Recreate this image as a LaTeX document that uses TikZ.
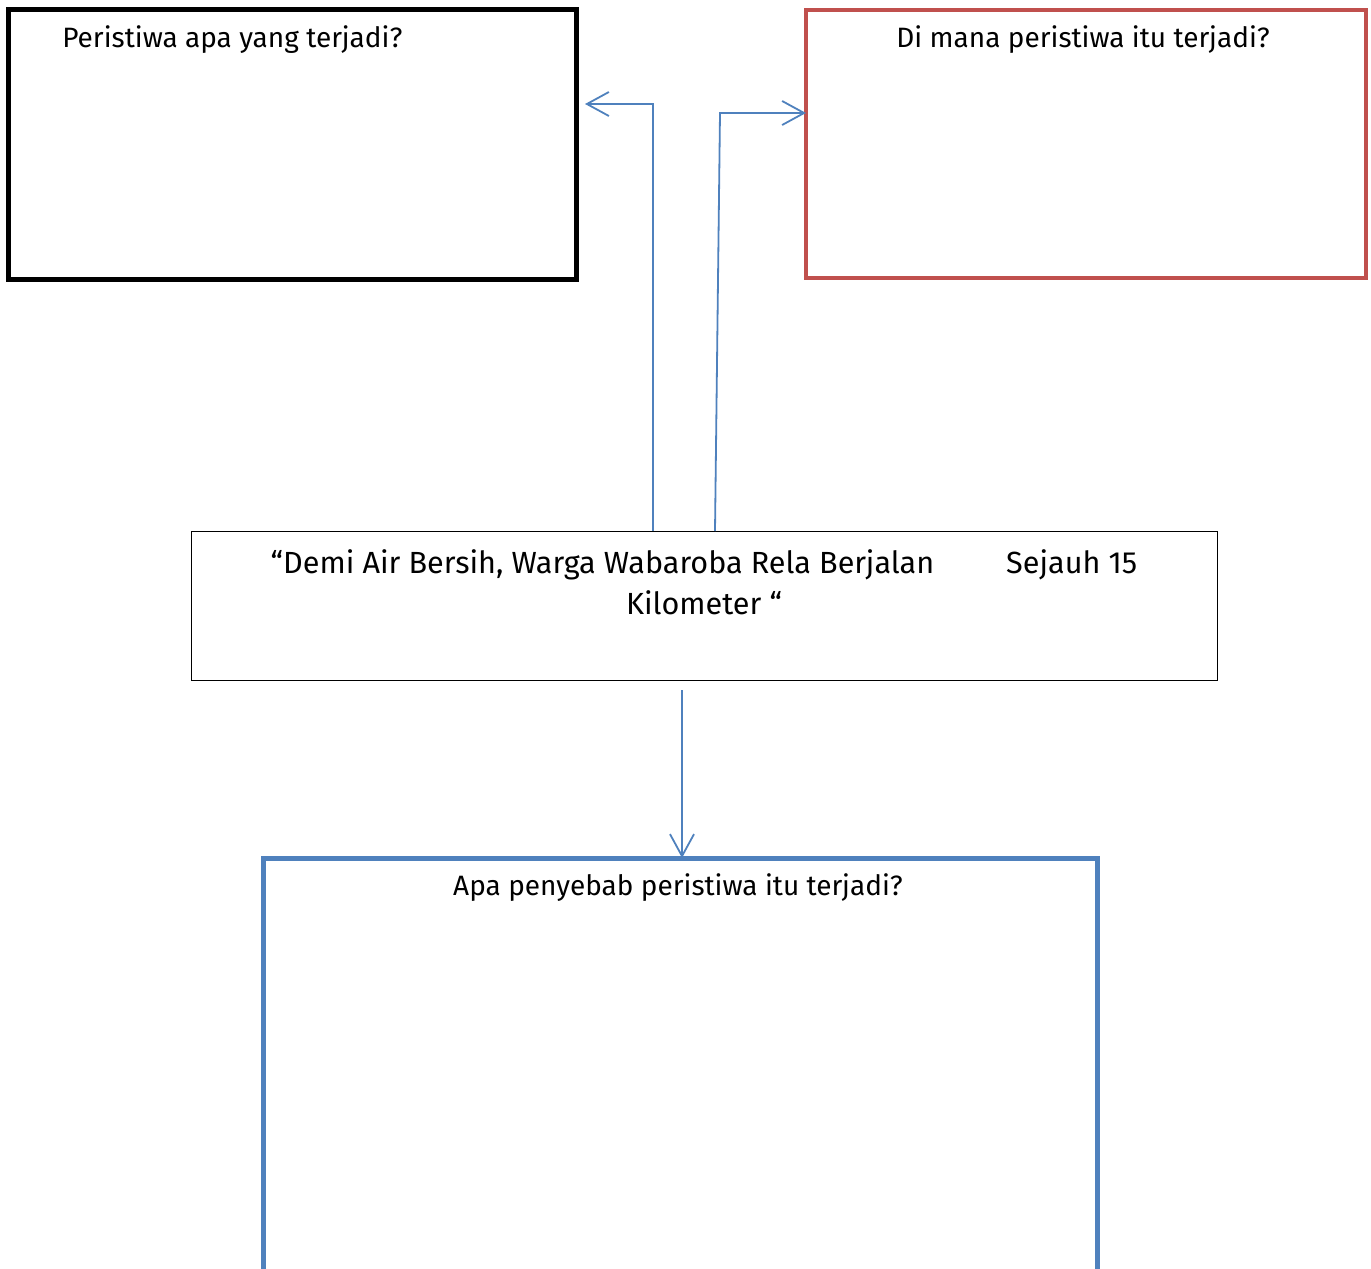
\documentclass[tikz,border=0pt]{standalone}
\usepackage{fontspec}
\setmainfont{Fira Sans}
\usetikzlibrary{arrows.meta,positioning}

\definecolor{boxred}{RGB}{192,80,77}
\definecolor{boxblue}{RGB}{79,129,189}

\begin{document}
\begin{tikzpicture}[x=0.5pt,y=-0.5pt,>={Straight Barb[length=11pt,width=12pt]},semithick]
  \tikzstyle{every node}=[font=\fontsize{14}{17}\selectfont]
  \tikzstyle{box}=[draw,rectangle,inner sep=0pt,outer sep=0pt,anchor=north west]
  \tikzstyle{link}=[->,draw=boxblue,line width=0.9pt]

  \clip (0,0) rectangle (1371,1269);

  \node[box,line width=2.5pt,minimum width=284pt,minimum height=135pt] (what) at (8,9) {};
  \node[box,draw=boxred,line width=2pt,minimum width=280pt,minimum height=134pt] (where) at (806,10) {};
  \node[box,line width=0.5pt,minimum width=513pt,minimum height=74.5pt] (head) at (191,531) {};
  \node[box,draw=boxblue,line width=2.5pt,minimum width=417pt,minimum height=221pt] (why) at (263,858) {};

  \node[anchor=west] (whatq) at (55,40) {Peristiwa apa yang terjadi?};
  \node (whereq) at (1083,40) {Di mana peristiwa itu terjadi?};
  \node[align=center,font=\fontsize{15.3}{20.5}\selectfont] (headq) at (704,582)
    {“Demi Air Bersih, Warga Wabaroba Rela Berjalan\hspace{36pt}Sejauh 15\\Kilometer “};
  \node (whyq) at (678,888) {Apa penyebab peristiwa itu terjadi?};

  % connectors
  \coordinate (lfoot) at (653,531);
  \coordinate (lbend) at (653,104);
  \coordinate (rfoot) at (715,531);
  \coordinate (rbend) at (720,113);
  \draw[link,shorten >=4.5pt] (lfoot) -- (lbend) -- (what.east |- lbend);
  \draw[link] (rfoot) -- (rbend) -- (where.west |- rbend);
  \draw[link] ([xshift=-11pt,yshift=-5pt]head.south) -- ([xshift=1pt]why.north);
\end{tikzpicture}
\end{document}
